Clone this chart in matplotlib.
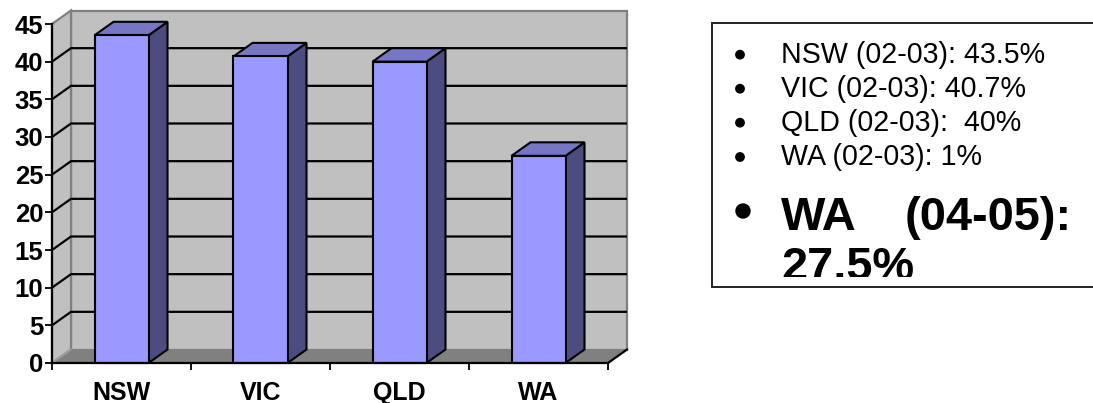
import matplotlib
matplotlib.use("Agg")
import matplotlib.pyplot as plt
from matplotlib.patches import Polygon, Rectangle, Circle
from matplotlib.transforms import Bbox, TransformedBbox

plt.rcParams['font.family'] = ['Liberation Sans', 'DejaVu Sans']

# Data
states = ["NSW", "VIC", "QLD", "WA"]
values = [43.5, 40.7, 40.0, 27.5]
y_ticks = [0, 5, 10, 15, 20, 25, 30, 35, 40, 45]
notes = ["NSW (02-03): 43.5%", "VIC (02-03): 40.7%",
         "QLD (02-03):  40%", "WA (02-03): 1%"]
note_big = ["WA", "(04-05):", "27.5%"]

# Colours
WALL = "#C0C0C0"
FLOOR = "#808080"
EDGE = "#808080"
FRONT = "#9999FF"
TOP = "#7676C4"
SIDE = "#4C4C80"

W, H = 1093, 403
fig = plt.figure(figsize=(W / 100, H / 100), dpi=100)

# Main plot area (front plane of the 3-D box)
left_px, right_px, top_px, bottom_px = 52, 608, 24, 363
ax = fig.add_axes([left_px / W, (H - bottom_px) / H,
                   (right_px - left_px) / W, (bottom_px - top_px) / H])
n = len(states)
ymax = 45
ax.set_xlim(0, n)
ax.set_ylim(0, ymax)
ax.set_facecolor("none")

# depth offsets in data units
px_x = n / (right_px - left_px)
px_y = ymax / (bottom_px - top_px)
ddx = 19 * px_x
ddy = 13.5 * px_y

# walls and floor
ax.add_patch(Polygon([(ddx, ddy), (n + ddx, ddy), (n + ddx, ymax + ddy), (ddx, ymax + ddy)],
                     closed=True, facecolor=WALL, edgecolor=EDGE, lw=1.6, clip_on=False, zorder=1))
ax.add_patch(Polygon([(0, 0), (ddx, ddy), (ddx, ymax + ddy), (0, ymax)],
                     closed=True, facecolor=WALL, edgecolor=EDGE, lw=1.6, clip_on=False, zorder=1))

# gridlines along the left and back walls
for v in y_ticks[1:-1]:
    ax.plot([0, ddx, n + ddx], [v, v + ddy, v + ddy], color="black", lw=1.6,
            clip_on=False, zorder=2, solid_capstyle="butt")

ax.add_patch(Polygon([(0, 0), (n, 0), (n + ddx, ddy), (ddx, ddy)],
                     closed=True, facecolor=FLOOR, edgecolor="none", clip_on=False, zorder=3))
ax.plot([0, ddx], [0, ddy], color="#A0A0A0", lw=1.2, clip_on=False, zorder=3)
ax.plot([n, n + ddx], [0, ddy], color="black", lw=1.6, clip_on=False, zorder=6)

# 3-D bars
bw = 54 / 139
for i, v in enumerate(values):
    x0 = i + 0.5 - bw / 2
    x1 = i + 0.5 + bw / 2
    ax.add_patch(Polygon([(x1, 0), (x1 + ddx, ddy), (x1 + ddx, v + ddy), (x1, v)],
                         closed=True, facecolor=SIDE, edgecolor="black", lw=1.5,
                         clip_on=False, zorder=4, joinstyle="miter"))
    ax.add_patch(Polygon([(x0, v), (x1, v), (x1 + ddx, v + ddy), (x0 + ddx, v + ddy)],
                         closed=True, facecolor=TOP, edgecolor="black", lw=1.5,
                         clip_on=False, zorder=4, joinstyle="miter"))
    ax.add_patch(Rectangle((x0, 0), bw, v, facecolor=FRONT, edgecolor="black",
                           lw=1.5, clip_on=False, zorder=5))

# axes
for s in ("top", "right"):
    ax.spines[s].set_visible(False)
for s in ("left", "bottom"):
    ax.spines[s].set_color("black")
    ax.spines[s].set_linewidth(1.6)
    ax.spines[s].set_zorder(6)

ax.set_yticks(y_ticks)
ax.set_yticklabels([str(t) for t in y_ticks], fontsize=18.5, fontweight="bold")
ax.tick_params(axis="y", direction="out", length=5.2, width=1.3, pad=1.0, colors="black")

ax.set_xticks(range(n + 1))
ax.set_xticklabels([""] * (n + 1))
ax.tick_params(axis="x", which="major", direction="out", length=5.2, width=1.3)
ax.set_xticks([i + 0.5 for i in range(n)], minor=True)
ax.set_xticklabels(states, minor=True, fontsize=18, fontweight="bold")
ax.tick_params(axis="x", which="minor", length=0, pad=13)

# Text box with notes (pixel-coordinate overlay)
ov = fig.add_axes([0, 0, 1, 1])
ov.set_xlim(0, W)
ov.set_ylim(H, 0)
ov.axis("off")
ov.patch.set_visible(False)

ov.add_patch(Rectangle((712, 23), 500, 264, facecolor="white", edgecolor="#222222", lw=1.4))

baselines = [62.7, 96.7, 130.7, 165]
for b, t in zip(baselines, notes):
    ov.add_patch(Circle((740, b - 8), 4.2, color="black"))
    ov.text(781, b, t, fontsize=20.6, va="baseline", ha="left", color="black")

ov.add_patch(Circle((743, 211), 7, color="black"))
ov.text(781, 230, note_big[0], fontsize=33.8, fontweight="bold", va="baseline", ha="left")
ov.text(905, 230, note_big[1], fontsize=33.8, fontweight="bold", va="baseline", ha="left")
t = ov.text(781, 279.5, note_big[2], fontsize=33.8, fontweight="bold", va="baseline", ha="left")
t.set_clip_on(True)
t.set_clip_box(TransformedBbox(Bbox([[712, 23], [1093, 276.7]]), ov.transData))

fig.savefig("out.png", dpi=100)
